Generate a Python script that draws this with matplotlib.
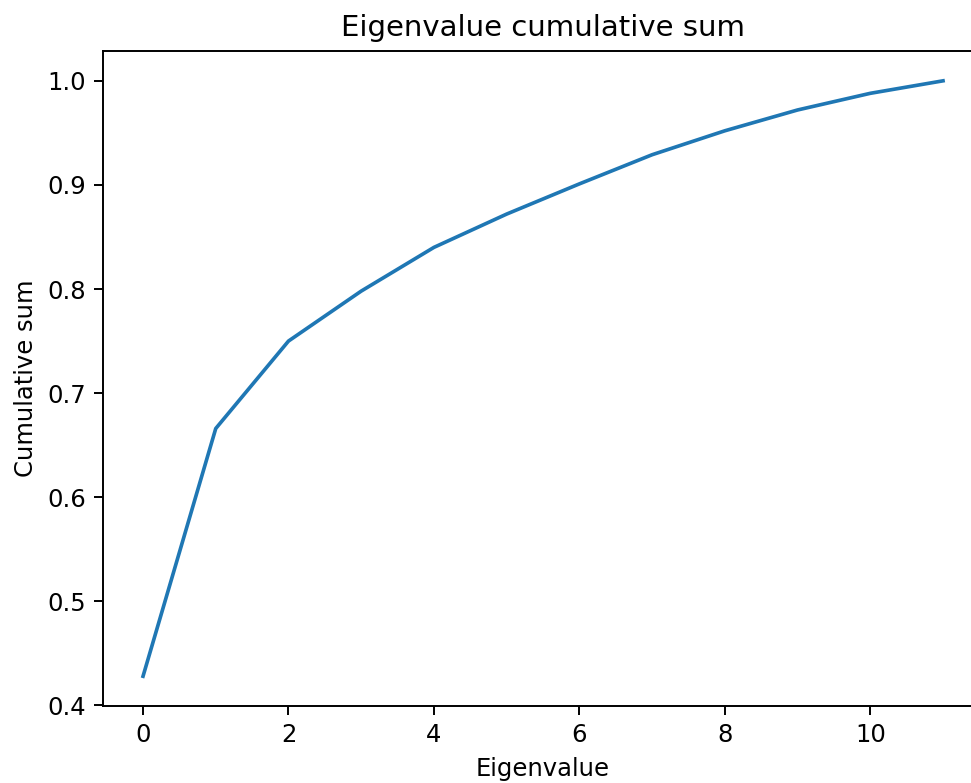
import numpy as np
import matplotlib.pyplot as plt

# cumulative sum of eigenvalues
idx = np.arange(12)
cumsum = [0.428, 0.666, 0.750, 0.798, 0.840, 0.872, 0.901, 0.929, 0.952, 0.972, 0.988, 1.000]

dpi = 175
fig = plt.figure(figsize=(971 / dpi, 783 / dpi), dpi=dpi)
ax = fig.add_axes([0.1061, 0.0983, 0.9063, 0.8365])
ax.plot(idx, cumsum)
ax.spines['right'].set_visible(False)  # cropped off in the original
ax.set_title('Eigenvalue cumulative sum')
ax.set_xlabel('Eigenvalue')
ax.set_ylabel('Cumulative sum')
fig.savefig('out.png', dpi=dpi)
